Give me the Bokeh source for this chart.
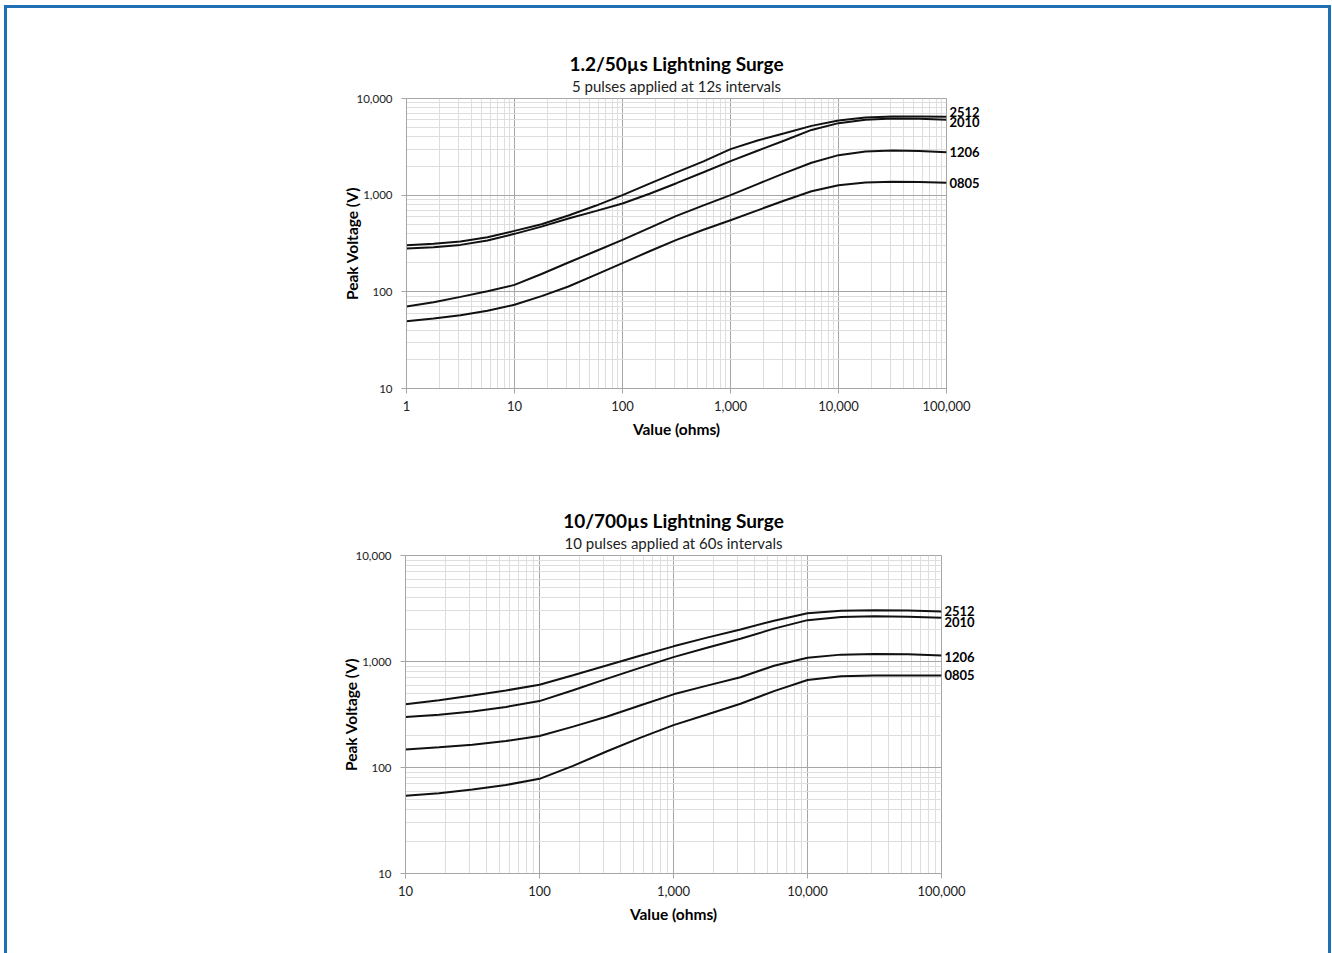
from bokeh.plotting import figure
from bokeh.models import Range1d, FixedTicker, NumeralTickFormatter, Title, LogAxis
from bokeh.layouts import column
from bokeh.embed import file_html
from bokeh.resources import INLINE

FONT = "Lato"

# ---------------- data ----------------
sizes = ["2512", "2010", "1206", "0805"]

top_title = "1.2/50µs Lightning Surge"
top_subtitle = "5 pulses applied at 12s intervals"
top_x = [1, 1.78, 3.16, 5.62, 10, 17.8, 31.6, 56.2, 100, 178, 316, 562, 1000,
         1778, 3162, 5623, 10000, 17783, 31623, 56234, 100000]
top_2512 = [304, 314, 332, 367, 427, 501, 617, 776, 1000, 1318, 1718, 2239, 2992,
            3681, 4375, 5212, 5916, 6353, 6516, 6516, 6457]
top_2010 = [281, 290, 306, 339, 398, 473, 574, 684, 820, 1035, 1330, 1726, 2249,
            2884, 3681, 4732, 5559, 6026, 6209, 6166, 6012]
top_1206 = [70.5, 78.2, 88.7, 101.2, 118, 153, 201, 263, 345, 459, 611, 785, 1000,
            1303, 1690, 2163, 2594, 2831, 2897, 2871, 2786]
top_0805 = [49.7, 53.1, 57.4, 63.8, 73.4, 90.2, 113.5, 149.6, 198, 263, 345, 439, 551,
            697, 881, 1096, 1268, 1349, 1374, 1365, 1343]
top_xticks = [1, 10, 100, 1000, 10000, 100000]
top_yticks = [10, 100, 1000, 10000]

bot_title = "10/700µs Lightning Surge"
bot_subtitle = "10 pulses applied at 60s intervals"
bot_x = [10, 17.8, 31.6, 56.2, 100, 178, 316, 562, 1000, 1778, 3162, 5623, 10000,
         17783, 31623, 56234, 100000]
bot_2512 = [396, 432, 478, 533, 603, 741, 916, 1135, 1390, 1679, 2004, 2427, 2851,
            3006, 3048, 3034, 2965]
bot_2010 = [299, 315, 337, 373, 423, 535, 685, 871, 1099, 1349, 1637, 2042, 2455,
            2630, 2679, 2649, 2582]
bot_1206 = [148, 155, 164, 178, 198, 243, 301, 385, 490, 592, 711, 912, 1084,
            1161, 1180, 1169, 1140]
bot_0805 = [54.1, 57.3, 61.9, 68.4, 78.2, 103.5, 141.6, 190.5, 251, 316, 399, 525, 668,
            724, 738, 738, 738]
bot_xticks = [10, 100, 1000, 10000, 100000]
bot_yticks = [10, 100, 1000, 10000]

MAJOR = "#a6a6a6"
MINOR = "#dedede"
TEXT = "#222222"


def minor_of(ticks):
    out = []
    for t in ticks[:-1]:
        for m in range(2, 10):
            out.append(t * m)
    return out


def make_chart(title, subtitle, xs, series, xticks, yticks, left, fw, top,
               fh, height, total_w, label_dy):
    p = figure(width=total_w, height=height, x_axis_type="log", y_axis_type="log",
               x_range=Range1d(xticks[0], xticks[-1]),
               y_range=Range1d(yticks[0], yticks[-1]),
               output_backend="svg", toolbar_location=None)
    p.frame_align = False
    p.min_border_left = left
    p.min_border_right = total_w - left - fw
    p.min_border_top = top
    p.min_border_bottom = height - top - fh
    p.outline_line_color = MAJOR
    p.background_fill_color = "white"
    p.border_fill_color = "white"

    p.add_layout(Title(text=subtitle, align="center", text_font=FONT,
                       text_font_size="15px", text_font_style="normal",
                       text_color=TEXT, standoff=7), "above")
    p.add_layout(Title(text=title, align="center", text_font=FONT,
                       text_font_size="19px", text_font_style="bold",
                       text_color="#000000", standoff=-6), "above")

    p.xaxis.ticker = FixedTicker(ticks=xticks, minor_ticks=minor_of(xticks))
    p.yaxis.ticker = FixedTicker(ticks=yticks, minor_ticks=minor_of(yticks))
    p.xaxis.formatter = NumeralTickFormatter(format="0,0")
    p.yaxis.formatter = NumeralTickFormatter(format="0,0")

    for ax in (p.xaxis, p.yaxis):
        ax.axis_line_color = MAJOR
        ax.major_tick_line_color = MAJOR
        ax.major_tick_in = 0
        ax.major_tick_out = 5
        ax.minor_tick_in = 0
        ax.minor_tick_out = 0
        ax.major_label_text_font = FONT
        ax.major_label_text_color = TEXT
        ax.axis_label_text_font = FONT
        ax.axis_label_text_font_size = "15.5px"
        ax.axis_label_text_font_style = "bold"
        ax.axis_label_text_color = "#000000"
    p.xaxis.major_label_text_font_size = "13px"
    p.yaxis.major_label_text_font_size = "11.5px"
    p.xaxis.axis_label = "Value (ohms)"
    p.yaxis.axis_label = "Peak Voltage (V)"
    p.xaxis.major_label_standoff = 7
    p.yaxis.major_label_standoff = 9
    p.xaxis.axis_label_standoff = 6
    p.yaxis.axis_label_standoff = -7

    for g in (p.xgrid, p.ygrid):
        g.grid_line_color = MAJOR
        g.grid_line_width = 1
        g.minor_grid_line_color = MINOR
        g.minor_grid_line_width = 1

    for ys in series:
        p.line(xs, ys, line_color="#111111", line_width=2)

    # series names at the right end of each curve, as a right-hand axis
    px_per_dec = fh / (len(yticks) - 1)
    ends = [s[-1] * 10 ** (-dy / px_per_dec) for s, dy in zip(series, label_dy)]
    name_axis = LogAxis(ticker=FixedTicker(ticks=ends, minor_ticks=[]),
                        major_label_overrides={e: n for e, n in zip(ends, sizes)},
                        axis_line_color=None, major_tick_line_color=None,
                        minor_tick_line_color=None,
                        major_tick_in=0, major_tick_out=0,
                        minor_tick_in=0, minor_tick_out=0,
                        major_label_standoff=3,
                        major_label_text_font=FONT,
                        major_label_text_font_size="13px",
                        major_label_text_font_style="bold",
                        major_label_text_color="#000000")
    p.add_layout(name_axis, "right")
    return p


TOTAL_W = 1319

p1 = make_chart(top_title, top_subtitle, top_x,
                [top_2512, top_2010, top_1206, top_0805],
                top_xticks, top_yticks,
                left=398, fw=540, top=89, fh=290, height=450,
                total_w=TOTAL_W, label_dy=[-5, 2, 0, 0])

p2 = make_chart(bot_title, bot_subtitle, bot_x,
                [bot_2512, bot_2010, bot_1206, bot_0805],
                bot_xticks, bot_yticks,
                left=397, fw=536, top=96, fh=318, height=494,
                total_w=TOTAL_W, label_dy=[0, 4, 2, 0])

layout = column(p1, p2, spacing=0, margin=(9, 0, 0, 8),
                styles={"outline": "3px solid #1f6fb5", "outline-offset": "1px"})

open("out.html", "w").write(file_html(layout, INLINE))
